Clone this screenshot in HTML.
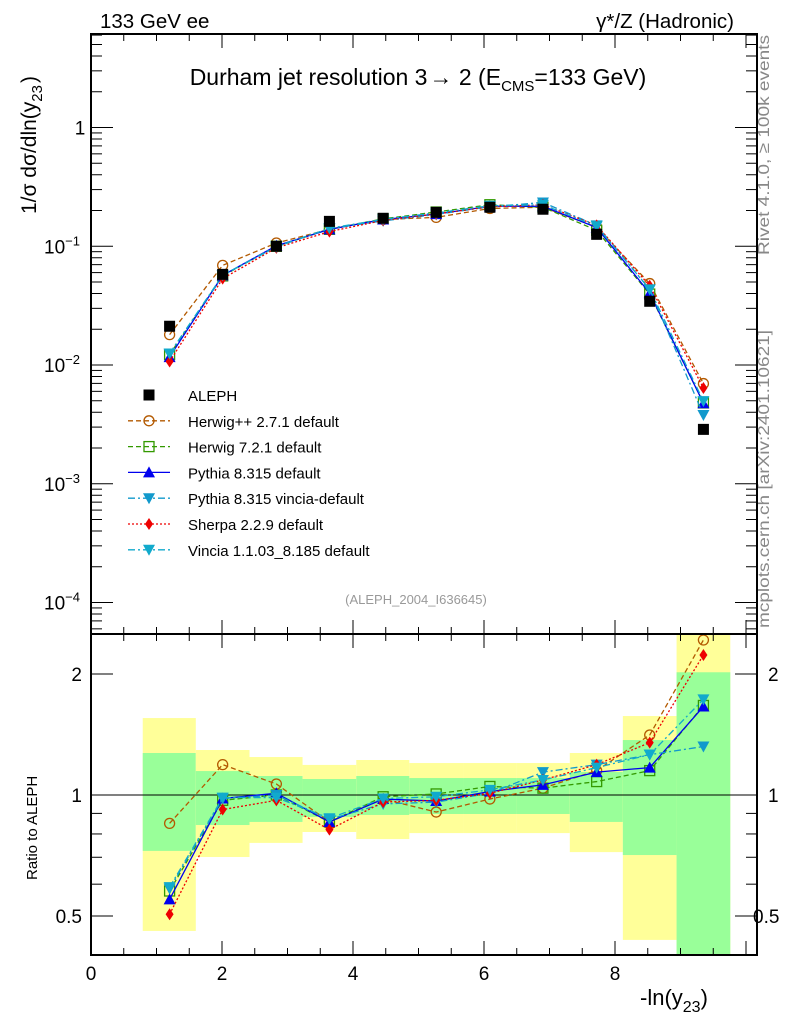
<!DOCTYPE html>
<html><head><meta charset="utf-8"><style>
html,body{margin:0;padding:0;background:#fff;}
svg{display:block;font-family:"Liberation Sans",sans-serif;}
</style></head><body>
<svg id="chart" width="786" height="1024" viewBox="0 0 786 1024" xmlns="http://www.w3.org/2000/svg">
<text x="100" y="28" font-size="20.5">133 GeV ee</text>
<text x="734" y="28" font-size="20.5" text-anchor="end">γ*/Z (Hadronic)</text>
<text x="418" y="85" font-size="23" text-anchor="middle">Durham jet resolution 3<tspan dx="2">→</tspan>  2 (E<tspan font-size="15" dy="6">CMS</tspan><tspan dy="-6">=133 GeV)</tspan></text>
<text transform="translate(769,255) rotate(-90)" font-size="16" fill="#888" textLength="220" lengthAdjust="spacingAndGlyphs">Rivet 4.1.0, ≥ 100k events</text>
<text transform="translate(769,628) rotate(-90)" font-size="16" fill="#888" textLength="298" lengthAdjust="spacingAndGlyphs">mcplots.cern.ch [arXiv:2401.10621]</text>
<text x="416" y="604" font-size="13" fill="#999" text-anchor="middle">(ALEPH_2004_I636645)</text>
<text transform="translate(36,214) rotate(-90)" font-size="21">1/σ  dσ/dln(y<tspan font-size="15" dy="6">23</tspan><tspan dy="-6" dx="2">)</tspan></text>
<text transform="translate(37,880) rotate(-90)" font-size="15">Ratio to ALEPH</text>
<text x="640" y="1005" font-size="22">-ln(y<tspan font-size="16" dy="7">23</tspan><tspan dy="-7">)</tspan></text>
<g id="g"></g>
</svg>
<script>
const xCenters=[1.2,2.01,2.83,3.64,4.46,5.27,6.09,6.9,7.72,8.53,9.35];
const binEdges=[0.79,1.60,2.42,3.23,4.05,4.86,5.68,6.49,7.31,8.12,8.94,9.76];
const alephValues=[0.0212,0.058,0.100,0.162,0.172,0.193,0.213,0.205,0.126,0.0344,0.00287];
const herwigppRatio=[0.85,1.19,1.065,0.857,0.977,0.907,0.977,1.04,1.15,1.41,2.43];
const herwig7Ratio=[0.577,0.97,1.0,0.857,0.99,1.006,1.05,1.04,1.08,1.15,1.67];
const pythiaRatio=[0.55,0.98,1.01,0.857,0.977,0.966,1.02,1.06,1.14,1.17,1.66];
const pythiaVinciaRatio=[0.585,0.98,1.0,0.87,0.95,0.96,1.01,1.14,1.19,1.26,1.32];
const sherpaRatio=[0.505,0.92,0.97,0.82,0.96,0.97,1.01,1.09,1.19,1.35,2.23];
const vinciaRatio=[0.59,0.985,0.985,0.875,0.98,0.99,1.03,1.09,1.17,1.26,1.73];
const yellowHi=[1.554,1.294,1.243,1.188,1.222,1.201,1.201,1.201,1.272,1.572,3.0];
const yellowLo=[0.459,0.701,0.760,0.809,0.777,0.804,0.804,0.804,0.721,0.436,0.3];
const greenHi=[1.272,1.147,1.115,1.096,1.115,1.102,1.102,1.102,1.141,1.37,2.02];
const greenLo=[0.726,0.842,0.857,0.882,0.892,0.897,0.897,0.897,0.857,0.709,0.3];
const xTicks=[0,2,4,6,8];

const NS="http://www.w3.org/2000/svg";
const G=document.getElementById('g');
function el(t,a,p){const e=document.createElementNS(NS,t);for(const k in a)e.setAttribute(k,a[k]);(p||G).appendChild(e);return e;}
const L=91,R=757,T1=34,B1=634,B2=955;
const xs=v=>L+v*65.5;
const ys=v=>365-(Math.log10(v)+2)*118.75;
const rs=v=>795-Math.log2(v)*121;
const clampR=y=>Math.max(B1,Math.min(B2,y));

for(let i=0;i<xCenters.length;i++){
  const x0=xs(binEdges[i]),x1=xs(binEdges[i+1]);
  let y0=clampR(rs(yellowHi[i])),y1=clampR(rs(yellowLo[i]));
  let r=el('rect',{x:x0,y:y0,width:x1-x0,height:y1-y0,fill:'#ffff99'});
  
  
  y0=clampR(rs(greenHi[i]));y1=clampR(rs(greenLo[i]));
  r=el('rect',{x:x0,y:y0,width:x1-x0,height:y1-y0,fill:'#99ff99'});
  
  
}
let ref=el('line',{x1:L,x2:R,y1:rs(1),y2:rs(1),stroke:'#000','stroke-width':1});



const series=[
 {name:'herwigpp',label:'Herwig++ 2.7.1 default',r:herwigppRatio,c:'#b35900',dash:'5,3',m:'circle'},
 {name:'herwig7',label:'Herwig 7.2.1 default',r:herwig7Ratio,c:'#339900',dash:'5,3',m:'square'},
 {name:'pythia',label:'Pythia 8.315 default',r:pythiaRatio,c:'#0000ee',dash:'',m:'up'},
 {name:'pythia-vincia',label:'Pythia 8.315 vincia-default',r:pythiaVinciaRatio,c:'#1199cc',dash:'7,3,2,3',m:'down'},
 {name:'sherpa',label:'Sherpa 2.2.9 default',r:sherpaRatio,c:'#ee0000',dash:'2,2',m:'diamond'},
 {name:'vincia',label:'Vincia 1.1.03_8.185 default',r:vinciaRatio,c:'#11aacc',dash:'7,3,2,3',m:'down'}
];
function marker(m,x,y,c,p){
  if(m==='circle')return el('circle',{cx:x,cy:y,r:5,fill:'none',stroke:c,'stroke-width':1.3},p);
  if(m==='square')return el('rect',{x:x-5,y:y-5,width:10,height:10,fill:'none',stroke:c,'stroke-width':1.3},p);
  if(m==='up')return el('polygon',{points:`${x},${y-6} ${x-6},${y+5} ${x+6},${y+5}`,fill:c},p);
  if(m==='down')return el('polygon',{points:`${x},${y+6} ${x-6},${y-5} ${x+6},${y-5}`,fill:c},p);
  if(m==='diamond')return el('polygon',{points:`${x},${y-6} ${x-4},${y} ${x},${y+6} ${x+4},${y}`,fill:c},p);
  return el('rect',{x:x-5.5,y:y-5.5,width:11,height:11,fill:c},p);
}
const defs=el('defs',{});
const cp=el('clipPath',{id:'rc'},defs);el('rect',{x:L,y:B1,width:R-L,height:B2-B1},cp);
const cp2=el('clipPath',{id:'tc'},defs);el('rect',{x:L,y:T1,width:R-L,height:B1-T1},cp2);
const gTop=el('g',{'clip-path':'url(#tc)'});
const gRat=el('g',{'clip-path':'url(#rc)'});
series.forEach(s=>{
  const vals=alephValues.map((a,i)=>a*s.r[i]);
  const g1=el('g',{},gTop);
  
  
  el('polyline',{points:xCenters.map((x,i)=>xs(x)+','+ys(vals[i])).join(' '),fill:'none',stroke:s.c,'stroke-width':1.3,'stroke-dasharray':s.dash},g1);
  xCenters.forEach((x,i)=>{const m=marker(s.m,xs(x),ys(vals[i]),s.c,g1);
    
    });
  const g2=el('g',{},gRat);
  
  
  el('polyline',{points:xCenters.map((x,i)=>xs(x)+','+rs(s.r[i])).join(' '),fill:'none',stroke:s.c,'stroke-width':1.3,'stroke-dasharray':s.dash},g2);
  xCenters.forEach((x,i)=>{const m=marker(s.m,xs(x),rs(s.r[i]),s.c,g2);
    
    });
});
xCenters.forEach((x,i)=>{const m=marker('sq',xs(x),ys(alephValues[i]),'#000',gTop);
  
  });

const leg=el('g',{});


const lrows=[{label:'ALEPH',m:'sq',c:'#000',dash:null}].concat(series);
lrows.forEach((s,i)=>{
  const y=395+i*25.8;
  const e=el('g',{},leg);
  
  
  if(s.dash!==null)el('line',{x1:128,x2:170,y1:y,y2:y,stroke:s.c,'stroke-width':1.3,'stroke-dasharray':s.dash},e);
  marker(s.m,149,y,s.c,e);
  const t=el('text',{x:188,y:y+6,'font-size':15},e);t.textContent=s.label;
});

[[T1,B1],[B1,B2]].forEach(([a,b])=>{const f=el('rect',{x:L,y:a,width:R-L,height:b-a,fill:'none',stroke:'#000','stroke-width':2});
  
  });
for(let v=0;v<=10;v+=0.5){const x=xs(v);if(x>R)break;const major=Math.abs(v%2)<1e-9;const len=major?14:7;
  [T1,B1].forEach(y=>el('line',{x1:x,x2:x,y1:y,y2:y+len,stroke:'#000'}));
  [B1,B2].forEach(y=>el('line',{x1:x,x2:x,y1:y,y2:y-len,stroke:'#000'}));}
xTicks.forEach(v=>{const t=el('text',{x:xs(v),y:980,'font-size':19,'text-anchor':'middle'});t.textContent=v;
  
  });
for(let d=-5;d<=1;d++)for(let k=1;k<10;k++){const y=ys(k*Math.pow(10,d));if(y<T1||y>B1)continue;const len=k===1?22:11;
  el('line',{x1:L,x2:L+len,y1:y,y2:y,stroke:'#000'});el('line',{x1:R,x2:R-len,y1:y,y2:y,stroke:'#000'});}
const yLabs=[[1,'1'],[0.1,'10','−1'],[0.01,'10','−2'],[0.001,'10','−3'],[0.0001,'10','−4']];
yLabs.forEach(l=>{const t=el('text',{x:l[2]?62:80,y:ys(l[0])+7,'font-size':19,'text-anchor':'middle'});
  
  
  t.textContent=l[1];if(l[2]){const s=el('tspan',{'font-size':13,dy:-8},t);s.textContent=l[2];}});
[0.4,0.5,0.6,0.7,0.8,0.9,1,2].forEach(v=>{const y=rs(v);if(y<B1||y>B2)return;const len=(v===0.5||v===1||v===2)?22:11;
  el('line',{x1:L,x2:L+len,y1:y,y2:y,stroke:'#000'});el('line',{x1:R,x2:R-len,y1:y,y2:y,stroke:'#000'});});
[[0.5,'0.5'],[1,'1'],[2,'2']].forEach(l=>{const y=rs(l[0])+7;
  let t=el('text',{x:82,y:y,'font-size':19,'text-anchor':'end'});t.textContent=l[1];
  
  
  t=el('text',{x:l[1]==='0.5'?753:768,y:y,'font-size':19});t.textContent=l[1];
  
  });
</script>
</body></html>
